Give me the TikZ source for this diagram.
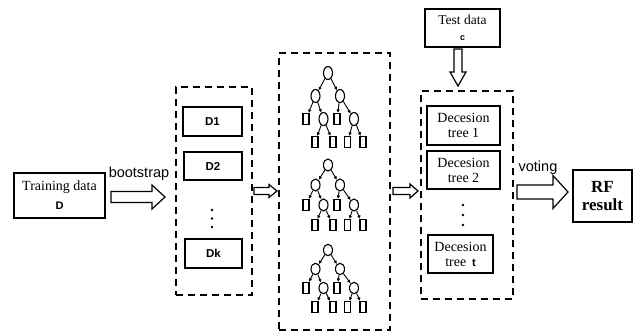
\documentclass[tikz,border=0pt]{standalone}
\usepackage{fontspec}
\setmainfont{Liberation Serif}
\newfontfamily\arialf{Liberation Sans}
\usetikzlibrary{arrows.meta,shapes.geometric,calc}

\newcommand\drawforest[4]{% prefix, y0, dy, ellipse height
  \node[tn,minimum height=#4pt] (#1r) at (328,#2) {};
  \node[tn,minimum height=#4pt] (#1a) at (315.5,{#2+#3}) {};
  \node[tn,minimum height=#4pt] (#1b) at (340,{#2+#3}) {};
  \node[tl] (#1aa) at (306,{#2+2*#3}) {};
  \node[tn,minimum height=#4pt] (#1ab) at (323.5,{#2+2*#3}) {};
  \node[tl] (#1ba) at (337,{#2+2*#3}) {};
  \node[tn,minimum height=#4pt] (#1bb) at (354,{#2+2*#3}) {};
  \node[tl] (#1aba) at (315,{#2+3*#3}) {};
  \node[tl] (#1abb) at (333,{#2+3*#3}) {};
  \node[tl] (#1bba) at (347.5,{#2+3*#3}) {};
  \node[tl] (#1bbb) at (363,{#2+3*#3}) {};
  \draw[te] (#1r) -- (#1a);
  \draw[te] (#1r) -- (#1b);
  \draw[te] (#1a) -- (#1aa);
  \draw[te] (#1a) -- (#1ab);
  \draw[te] (#1b) -- (#1ba);
  \draw[te] (#1b) -- (#1bb);
  \draw[te] (#1ab) -- (#1aba);
  \draw[te] (#1ab) -- (#1abb);
  \draw[te] (#1bb) -- (#1bba);
  \draw[te] (#1bb) -- (#1bbb);
}
\newcommand\harrow[5]{% start, end, body half, head half, head length
  \draw[hollow] ($(#1)+(0,-#3)$) -- ($(#2)+(-#5,-#3)$) -- ($(#2)+(-#5,-#4)$) -- (#2)
    -- ($(#2)+(-#5,#4)$) -- ($(#2)+(-#5,#3)$) -- ($(#1)+(0,#3)$) -- cycle;}

\begin{document}
\begin{tikzpicture}[x=1pt,y=-1pt,
  box/.style={draw,line width=1.3pt,inner sep=0pt,align=center},
  dbox/.style={draw,line width=1.3pt,dash pattern=on 7pt off 5pt,inner sep=0pt},
  hollow/.style={draw,line width=1.2pt,fill=white,line join=miter},
  tn/.style={draw,ellipse,line width=1.1pt,inner sep=0pt,minimum width=9pt,minimum height=12pt},
  tl/.style={draw,rectangle,line width=1.1pt,inner sep=0pt,minimum width=6pt,minimum height=11pt},
  te/.style={line width=0.9pt,-{Latex[length=3.5pt,width=3.5pt]}},
  dotn/.style={circle,fill,inner sep=0pt,minimum size=2.8pt},
  sr/.style={font=\fontsize{14}{15}\selectfont},
  lab/.style={font=\arialf\fontsize{14.5}{16}\selectfont,inner sep=0pt},
  dlab/.style={font=\arialf\bfseries\fontsize{11.5}{13}\selectfont},
]
\useasboundingbox (0,0) rectangle (633,332);

% training data
\node[box,sr,minimum width=91pt,minimum height=45pt] (train) at (59.5,195.5)
  {Training data\\[4pt]{\arialf\bfseries\fontsize{11}{13}\selectfont D}};
\node[lab] (bslab) at (139,174) {bootstrap};
\coordinate (bs) at (111,197);
\coordinate (be) at (165,197);
\harrow{bs}{be}{5.5}{12}{13}

% bootstrap samples
\node[dbox,minimum width=76pt,minimum height=208pt] (samp) at (214,191) {};
\node[box,dlab,minimum width=59pt,minimum height=29pt] (d1) at (212.5,121.5) {D1};
\node[box,dlab,minimum width=58pt,minimum height=28pt] (d2) at (213,166) {D2};
\node[box,dlab,minimum width=57pt,minimum height=29pt] (dk) at (213.5,253.5) {Dk};
\node[dotn] (sd1) at (212,210) {};
\node[dotn] (sd2) at (212,218.5) {};
\node[dotn] (sd3) at (212,227) {};

\coordinate (as1) at (254,191);
\coordinate (ae1) at (277,191);
\harrow{as1}{ae1}{3.5}{6.5}{8}

% forest
\node[dbox,minimum width=111pt,minimum height=277pt] (forest) at (334.5,191.5) {};
\drawforest{p}{73}{23}{13}
\drawforest{q}{165}{20}{12}
\drawforest{s}{250}{19}{11.5}

\coordinate (as2) at (393,191);
\coordinate (ae2) at (418,191);
\harrow{as2}{ae2}{3.5}{7}{8}

% test data
\node[box,minimum width=75pt,minimum height=38pt,font=\fontsize{13.5}{15}\selectfont] (test) at (462.5,28)
  {Test data\\[1pt]{\arialf\bfseries\fontsize{9}{10}\selectfont c}};
\coordinate (vs) at (458,49);
\coordinate (ve) at (458,86);
\draw[hollow] ($(vs)+(-4,0)$) -- ($(ve)+(-4,-14)$) -- ($(ve)+(-8,-14)$) -- (ve)
  -- ($(ve)+(8,-14)$) -- ($(ve)+(4,-14)$) -- ($(vs)+(4,0)$) -- cycle;

% decision trees
\node[dbox,minimum width=92pt,minimum height=208pt] (dts) at (467,195) {};
\node[box,sr,minimum width=73pt,minimum height=39pt] (dt1) at (463.5,125.5) {Decesion\\tree 1};
\node[box,sr,minimum width=73pt,minimum height=38pt] (dt2) at (463.5,170) {Decesion\\tree 2};
\node[box,sr,minimum width=65pt,minimum height=38pt] (dtt) at (460.5,254)
  {Decesion\\tree\, {\arialf\bfseries\fontsize{11}{13}\selectfont t}};
\node[dotn] (td1) at (463,205) {};
\node[dotn] (td2) at (463,215) {};
\node[dotn] (td3) at (463,225) {};

% voting
\node[lab] (vlab) at (538,168) {voting};
\coordinate (vts) at (517,192);
\coordinate (vte) at (568,192);
\harrow{vts}{vte}{7}{16.5}{15}

\node[box,minimum width=59pt,minimum height=52pt,font=\bfseries\fontsize{17}{18}\selectfont] (rf) at (602.5,196) {RF\\result};
\end{tikzpicture}
\end{document}
